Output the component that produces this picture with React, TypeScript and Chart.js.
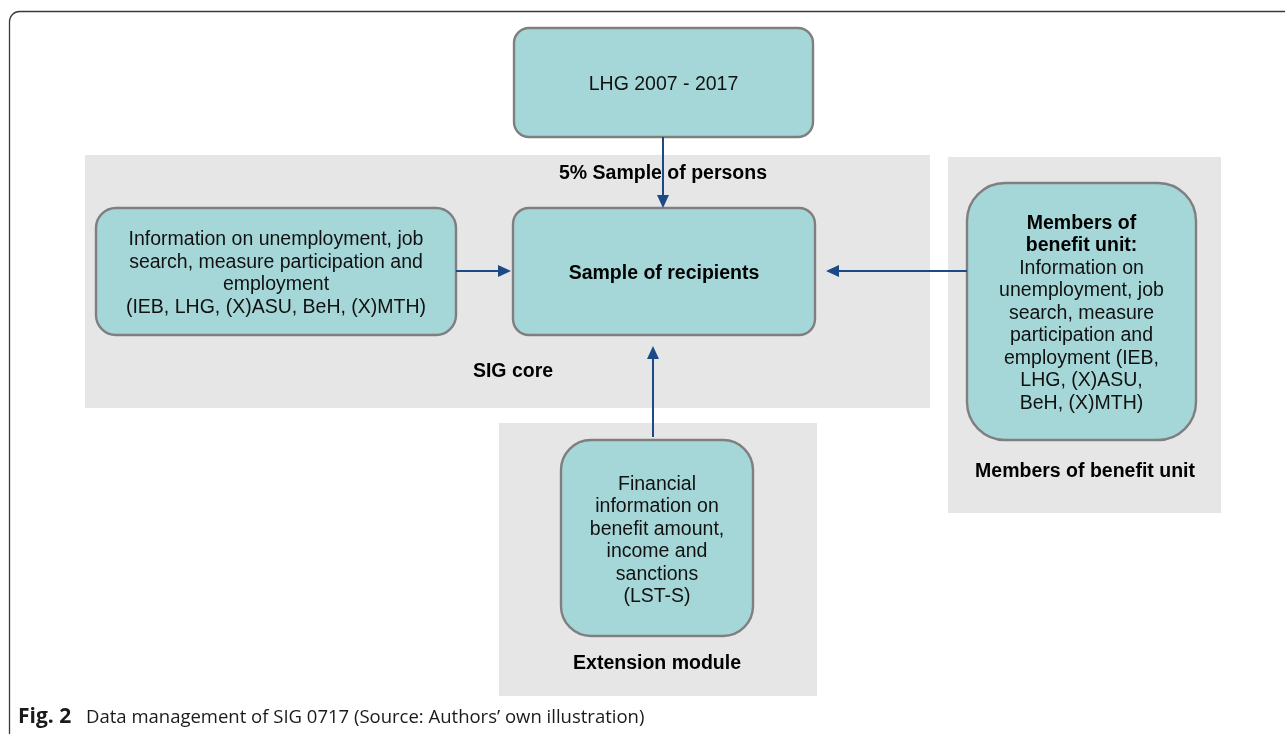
import React, { useEffect, useRef } from "react";
import { Chart, registerables } from "chart.js";

Chart.register(...registerables);

// ---- Diagram content (in diagram units, 0..1285 x 0..734) ----
const panelNames = ["SIG core", "Members of benefit unit", "Extension module"];
const panelRects = [
  [85, 155, 930, 408],
  [948, 157, 1221, 513],
  [499, 423, 817, 696],
];

const nodeNames = ["LHG", "Info", "Sample", "Members", "Financial"];
const nodeRects = [
  [514, 28, 813, 137],
  [96, 208, 456, 335],
  [513, 208, 815, 335],
  [967, 183, 1196, 440],
  [561, 440, 753, 636],
];
const nodeRadii = [15, 20, 16, 38, 30];
const nodeLines = [
  ["LHG 2007 - 2017"],
  [
    "Information on unemployment, job",
    "search, measure participation and",
    "employment",
    "(IEB, LHG, (X)ASU, BeH, (X)MTH)",
  ],
  ["Sample of recipients"],
  [
    "Members of",
    "benefit unit:",
    "Information on",
    "unemployment, job",
    "search, measure",
    "participation and",
    "employment (IEB,",
    "LHG, (X)ASU,",
    "BeH, (X)MTH)",
  ],
  [
    "Financial",
    "information on",
    "benefit amount,",
    "income and",
    "sanctions",
    "(LST-S)",
  ],
];
const nodeBoldLines = [0, 0, 1, 2, 0];
const nodeTextCenterY = [84.5, 273.5, 273.5, 313.5, 540.5];

const labelTexts = ["5% Sample of persons", "SIG core", "Members of benefit unit", "Extension module"];
const labelX = [663, 513, 1085, 657];
const labelY = [173.5, 371.5, 471.5, 663.5];

const arrowFrom = [
  [663, 137],
  [456, 271],
  [967, 271],
  [653, 437],
];
const arrowTo = [
  [663, 208],
  [511, 271],
  [826, 271],
  [653, 346],
];

const captionBold = "Fig. 2";
const captionText = "Data management of SIG 0717 (Source: Authors\u2019 own illustration)";

const BOX_FILL = "#a6d7d8";
const BOX_STROKE = "#7f7f7f";
const PANEL_FILL = "#e6e6e6";
const ARROW = "#1b4a87";
const TEXT = "#111111";
const FONT = "'Liberation Sans', Arial, sans-serif";
const FS = 19.5;

function roundRect(ctx: CanvasRenderingContext2D, x0: number, y0: number, x1: number, y1: number, r: number) {
  ctx.beginPath();
  ctx.moveTo(x0 + r, y0);
  ctx.lineTo(x1 - r, y0);
  ctx.arcTo(x1, y0, x1, y0 + r, r);
  ctx.lineTo(x1, y1 - r);
  ctx.arcTo(x1, y1, x1 - r, y1, r);
  ctx.lineTo(x0 + r, y1);
  ctx.arcTo(x0, y1, x0, y1 - r, r);
  ctx.lineTo(x0, y0 + r);
  ctx.arcTo(x0, y0, x0 + r, y0, r);
  ctx.closePath();
}

const diagramPlugin = {
  id: "diagram",
  afterDatasetsDraw(chart: any) {
    const ctx: CanvasRenderingContext2D = chart.ctx;
    const xs = chart.scales.x;
    const ys = chart.scales.y;
    const px = (v: number) => xs.getPixelForValue(v);
    const py = (v: number) => ys.getPixelForValue(v);
    ctx.save();

    // frame
    ctx.strokeStyle = "#3a3a3a";
    ctx.lineWidth = 1.3;
    ctx.beginPath();
    ctx.moveTo(px(9.5), py(734));
    ctx.lineTo(px(9.5), py(22));
    ctx.arcTo(px(9.5), py(11.5), px(20), py(11.5), 10);
    ctx.lineTo(px(1285), py(11.5));
    ctx.stroke();

    // panels
    panelRects.forEach((r) => {
      ctx.fillStyle = PANEL_FILL;
      ctx.fillRect(px(r[0]), py(r[1]), px(r[2]) - px(r[0]), py(r[3]) - py(r[1]));
    });

    // labels
    ctx.fillStyle = "#000";
    ctx.textAlign = "center";
    ctx.textBaseline = "middle";
    ctx.font = `bold ${FS}px ${FONT}`;
    labelTexts.forEach((t, i) => ctx.fillText(t, px(labelX[i]), py(labelY[i])));

    // nodes
    nodeRects.forEach((r, i) => {
      roundRect(ctx, px(r[0]), py(r[1]), px(r[2]), py(r[3]), nodeRadii[i]);
      ctx.fillStyle = BOX_FILL;
      ctx.fill();
      ctx.strokeStyle = BOX_STROKE;
      ctx.lineWidth = 2.4;
      ctx.stroke();
      const lines = nodeLines[i];
      const lh = 22.5;
      const cx = (px(r[0]) + px(r[2])) / 2;
      const cy = py(nodeTextCenterY[i]);
      const start = cy - ((lines.length - 1) * lh) / 2;
      lines.forEach((ln, j) => {
        const bold = i === 2 || j < nodeBoldLines[i];
        ctx.font = `${bold ? "bold " : ""}${FS}px ${FONT}`;
        ctx.fillStyle = bold ? "#000" : TEXT;
        ctx.fillText(ln, cx, start + j * lh);
      });
    });

    // arrows
    arrowFrom.forEach((f, i) => {
      const t = arrowTo[i];
      const x0 = px(f[0]), y0 = py(f[1]), x1 = px(t[0]), y1 = py(t[1]);
      const ang = Math.atan2(y1 - y0, x1 - x0);
      const hl = 13, hw = 6;
      const bx = x1 - hl * Math.cos(ang), by = y1 - hl * Math.sin(ang);
      ctx.strokeStyle = ARROW;
      ctx.lineWidth = 2;
      ctx.beginPath();
      ctx.moveTo(x0, y0);
      ctx.lineTo(bx, by);
      ctx.stroke();
      ctx.fillStyle = ARROW;
      ctx.beginPath();
      ctx.moveTo(x1, y1);
      ctx.lineTo(bx + hw * Math.sin(ang), by - hw * Math.cos(ang));
      ctx.lineTo(bx - hw * Math.sin(ang), by + hw * Math.cos(ang));
      ctx.closePath();
      ctx.fill();
    });

    // caption
    ctx.textAlign = "left";
    ctx.textBaseline = "alphabetic";
    ctx.fillStyle = "#1a1a1a";
    ctx.font = `bold 21px 'Open Sans', sans-serif`;
    ctx.fillText(captionBold, px(18), py(723));
    ctx.font = `18.5px 'Open Sans', sans-serif`;
    ctx.fillText(captionText, px(86), py(723));

    ctx.restore();
  },
};

export default function App() {
  const ref = useRef<HTMLCanvasElement | null>(null);
  useEffect(() => {
    document.body.style.margin = "0";
    document.body.style.background = "#fff";
    if (!ref.current) return;
    const chart = new Chart(ref.current, {
      type: "scatter",
      data: {
        datasets: [
          {
            label: "nodes",
            data: nodeRects.map((r, i) => ({ x: (r[0] + r[2]) / 2, y: (r[1] + r[3]) / 2, name: nodeNames[i] })) as any,
            pointRadius: 0,
            showLine: false,
          },
          {
            label: "panels",
            data: panelRects.map((r, i) => ({ x: (r[0] + r[2]) / 2, y: (r[1] + r[3]) / 2, name: panelNames[i] })) as any,
            pointRadius: 0,
            showLine: false,
          },
        ],
      },
      options: {
        responsive: false,
        animation: false,
        layout: { padding: 0 },
        plugins: { legend: { display: false }, tooltip: { enabled: false } },
        events: [],
        scales: {
          x: { type: "linear", min: 0, max: 1285, display: false },
          y: { type: "linear", min: 0, max: 734, reverse: true, display: false },
        },
      },
      plugins: [diagramPlugin],
    });
    return () => chart.destroy();
  }, []);
  return (
    <div style={{ position: "absolute", left: 0, top: 0, width: 1285, height: 734 }}>
      <canvas ref={ref} width={1285} height={734} style={{ display: "block" }} />
    </div>
  );
}
